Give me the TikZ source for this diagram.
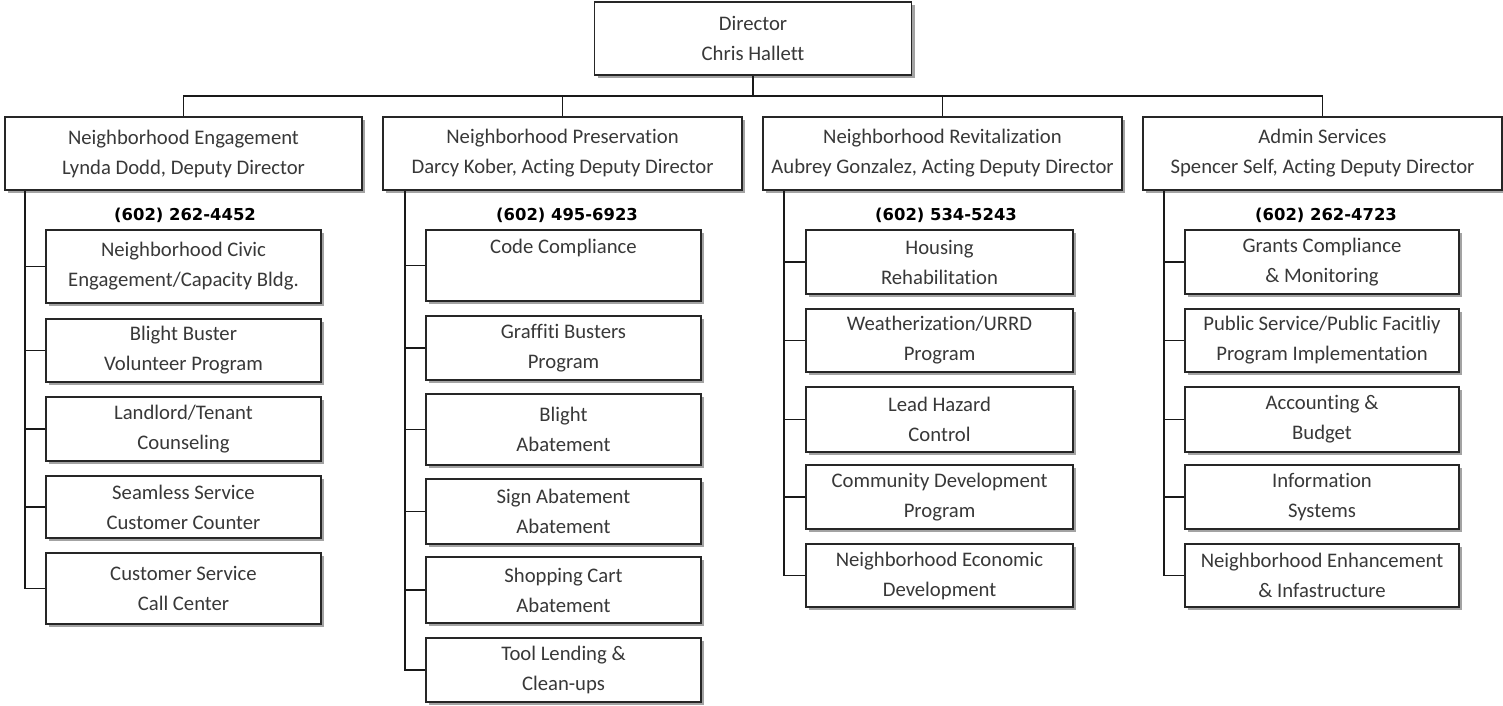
\documentclass[tikz,border=0pt]{standalone}
\usepackage{fontspec}
\setmainfont{Carlito}[Ligatures=NoCommon]
\newfontfamily\phonefont{DejaVu Sans}
\usepackage{tikz}
\usetikzlibrary{shadows}

\begin{document}
\begin{tikzpicture}[
    x=1pt, y=-1pt,
    unit/.style={draw=black!85, line width=1.3pt, fill=white, text=black!78, align=center,
      inner sep=0pt, font=\fontsize{20.7}{30}\selectfont,
      drop shadow={shadow xshift=3pt, shadow yshift=-3pt, fill=black!60, opacity=0.6}},
    head/.style={unit, minimum width=357pt, minimum height=73pt},
    colA/.style={unit, minimum width=275pt},
    colB/.style={unit, minimum width=267pt},
    colC/.style={unit, minimum width=274pt},
    phone/.style={anchor=base, font=\phonefont\bfseries\fontsize{16.4}{18}\selectfont},
    link/.style={draw=black!90, line width=1.2pt}]
  \useasboundingbox (0,0) rectangle (1503,706);

  % director and divisions
  \node[unit, minimum width=317pt, minimum height=73pt] (dir) at (753,38.5) {Director\\Chris Hallett};
  \node[head] (ne) at (183.5,153.5) {Neighborhood Engagement\\Lynda Dodd, Deputy Director};
  \node[head, minimum width=359pt] (np) at (562.5,153.5) {Neighborhood Preservation\\Darcy Kober, Acting Deputy Director};
  \node[head, minimum width=359pt] (nr) at (942.5,153.5) {Neighborhood Revitalization\\Aubrey Gonzalez, Acting Deputy Director};
  \node[head, minimum width=359pt] (as) at (1322.5,153.5) {Admin Services\\Spencer Self, Acting Deputy Director};

  \node[phone] (pne) at (185,220) {(602) 262-4452};
  \node[phone] (pnp) at (567,220) {(602) 495-6923};
  \node[phone] (pnr) at (946,220) {(602) 534-5243};
  \node[phone] (pas) at (1326,220) {(602) 262-4723};

  % Neighborhood Engagement
  \node[colA, minimum height=73pt] (c11) at (183.5,266.5) {Neighborhood Civic\\Engagement/Capacity Bldg.};
  \node[colA, minimum height=63pt] (c12) at (183.5,350.5) {Blight Buster\\Volunteer Program};
  \node[colA, minimum height=64pt] (c13) at (183.5,429) {Landlord/Tenant\\Counseling};
  \node[colA, minimum height=62pt] (c14) at (183.5,507) {Seamless Service\\Customer Counter};
  \node[colA, minimum height=71pt] (c15) at (183.5,588.5) {Customer Service\\Call Center};

  % Neighborhood Preservation
  \node[colA, minimum height=71pt] (c21) at (563.5,265.5) {Code Compliance\\\strut};
  \node[colA, minimum height=64pt] (c22) at (563.5,348) {Graffiti Busters\\Program};
  \node[colA, minimum height=71pt] (c23) at (563.5,429.5) {Blight\\Abatement};
  \node[colA, minimum height=65pt] (c24) at (563.5,511.5) {Sign Abatement\\Abatement};
  \node[colA, minimum height=66pt] (c25) at (563.5,590) {Shopping Cart\\Abatement};
  \node[colA, minimum height=64pt] (c26) at (563.5,670) {Tool Lending \&\\Clean-ups};

  % Neighborhood Revitalization
  \node[colB, minimum height=64pt] (c31) at (939.5,262) {Housing\\Rehabilitation};
  \node[colB, minimum height=63pt] (c32) at (939.5,340.5) {Weatherization/URRD\\Program};
  \node[colB, minimum height=65pt] (c33) at (939.5,419.5) {Lead Hazard\\Control};
  \node[colB, minimum height=64pt] (c34) at (939.5,497) {Community Development\\Program};
  \node[colB, minimum height=63pt] (c35) at (939.5,575.5) {Neighborhood Economic\\Development};

  % Admin Services
  \node[colC, minimum height=64pt] (c41) at (1322,262) {Grants Compliance\\\& Monitoring};
  \node[colC, minimum height=63pt] (c42) at (1322,340.5) {Public Service/Public Facitliy\\Program Implementation};
  \node[colC, minimum height=65pt] (c43) at (1322,419.5) {Accounting \&\\Budget};
  \node[colC, minimum height=64pt] (c44) at (1322,497) {Information\\Systems};
  \node[colC, minimum height=63pt] (c45) at (1322,575.5) {Neighborhood Enhancement\\\& Infastructure};

  % bus
  \coordinate (bus) at (0,96);
  \draw[link] (dir.south) -- (dir.south |- bus);
  \draw[link] (ne.north) |- (as.north |- bus) -- (as.north);
  \draw[link] (np.north) -- (np.north |- bus);
  \draw[link] (nr.north) -- (nr.north |- bus);

  % spines
  \coordinate (sa) at (25,0);
  \coordinate (sb) at (405,0);
  \coordinate (sc) at (784,0);
  \coordinate (sd) at (1164,0);
  \draw[link] (ne.south -| sa) |- (c15.west);
  \draw[link] (np.south -| sb) |- (c26.west);
  \draw[link] (nr.south -| sc) |- (c35.west);
  \draw[link] (as.south -| sd) |- (c45.west);
  \foreach \i in {1,...,4} \draw[link] (c1\i.west -| sa) -- (c1\i.west);
  \foreach \i in {1,...,5} \draw[link] (c2\i.west -| sb) -- (c2\i.west);
  \foreach \i in {1,...,4} \draw[link] (c3\i.west -| sc) -- (c3\i.west);
  \foreach \i in {1,...,4} \draw[link] (c4\i.west -| sd) -- (c4\i.west);
\end{tikzpicture}
\end{document}
